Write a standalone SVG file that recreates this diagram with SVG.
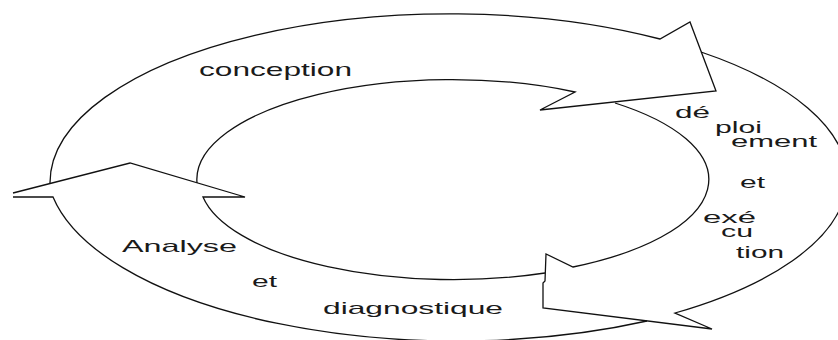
<svg xmlns="http://www.w3.org/2000/svg" width="838" height="340" viewBox="0 0 838 340">
  <style>
    .arrow { fill: none; stroke: #111; stroke-width: 1.3; stroke-linejoin: miter; stroke-linecap: butt; }
    .lbl { font-family: "Liberation Sans", Arial, sans-serif; font-size: 17px; fill: #1a1a1a; }
    .big { font-size: 19px; }
  </style>
  <rect width="838" height="340" fill="#fff"/>

  <!-- three curved arrows forming the cycle -->
  <g id="connectors">
    <!-- top arc: from the left head round the top to the head at the upper right -->
    <path id="arrow-conception" class="arrow"
          d="M50 183 A400 169 0 0 1 660 39 L690 22 L716 91 L540 110 L575 92 A255 100 0 0 0 197 183"/>
    <!-- right arc: down the right side to the head at the bottom -->
    <path id="arrow-deploiement" class="arrow"
          d="M701 52 A408 165 0 0 1 675 313 L712 329 L543 308 L543 283 L545 281 L546 254 L573 267 A256 99 0 0 0 615 103"/>
    <!-- bottom arc: along the bottom and up into the head on the left -->
    <path id="arrow-analyse" class="arrow"
          d="M647 321 A410 175 0 0 1 53 197 L13 197 M13 193 L130 163 L245 197 L203 197 A254 99 0 0 0 545 273"/>
  </g>

  <g id="phase-conception">
    <text class="lbl big" x="199" y="76" textLength="153" lengthAdjust="spacingAndGlyphs">conception</text>
  </g>

  <g id="phase-deploiement">
    <text class="lbl" x="675" y="118" textLength="35" lengthAdjust="spacingAndGlyphs">dé</text>
    <text class="lbl" x="715" y="132.5" textLength="47" lengthAdjust="spacingAndGlyphs">ploi</text>
    <text class="lbl" x="731" y="147" textLength="86" lengthAdjust="spacingAndGlyphs">ement</text>
    <text class="lbl" x="740" y="188" textLength="25" lengthAdjust="spacingAndGlyphs">et</text>
    <text class="lbl" x="703" y="223" textLength="53" lengthAdjust="spacingAndGlyphs">exé</text>
    <text class="lbl" x="721" y="236.5" textLength="32" lengthAdjust="spacingAndGlyphs">cu</text>
    <text class="lbl" x="736" y="258" textLength="48" lengthAdjust="spacingAndGlyphs">tion</text>
  </g>

  <g id="phase-analyse">
    <text class="lbl" x="122" y="252" textLength="115" lengthAdjust="spacingAndGlyphs">Analyse</text>
    <text class="lbl" x="252" y="287" textLength="25" lengthAdjust="spacingAndGlyphs">et</text>
    <text class="lbl" x="323" y="314" textLength="180" lengthAdjust="spacingAndGlyphs">diagnostique</text>
  </g>
</svg>
